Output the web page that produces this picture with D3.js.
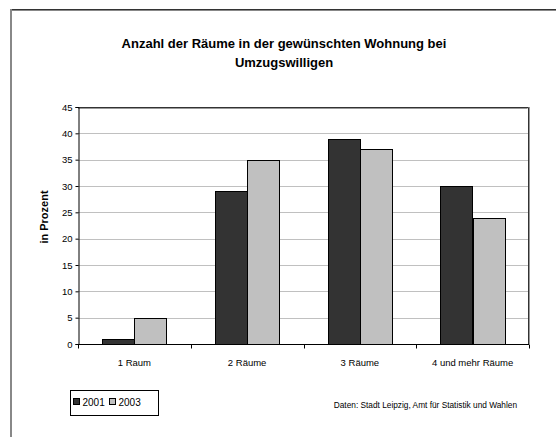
<!DOCTYPE html>
<html>
<head>
<meta charset="utf-8">
<script src="https://cdnjs.cloudflare.com/ajax/libs/d3/7.8.5/d3.min.js"></script>
<style>
  body { margin: 0; background: #fff; }
  svg { display: block; font-family: "Liberation Sans", Arial, sans-serif; }
</style>
</head>
<body>
<svg id="chart" width="556" height="437"></svg>
<script>
'use strict'
// data
const categories = ["1 Raum", "2 Räume", "3 Räume", "4 und mehr Räume"];
const seriesNames = ["2001", "2003"];
const values2001 = [1, 29, 39, 30];
const values2003 = [5, 35, 37, 24];
const yTicks = [0, 5, 10, 15, 20, 25, 30, 35, 40, 45];
const colors = ["#333333", "#c0c0c0"];

const svg = d3.select("#chart");

// outer chart frame (only top and left edges are visible)
svg.append("line").attr("x1", 11).attr("x2", 556).attr("y1", 9.5).attr("y2", 9.5)
    .attr("stroke", "#333").attr("stroke-width", 1);
svg.append("line").attr("x1", 11).attr("x2", 556).attr("y1", 10.5).attr("y2", 10.5)
    .attr("stroke", "#888").attr("stroke-width", 1);
svg.append("line").attr("x1", 11).attr("x2", 11).attr("y1", 9).attr("y2", 437)
    .attr("stroke", "#888").attr("stroke-width", 2);

// title
let title = svg.append("text")
    .attr("text-anchor", "middle")
    .attr("font-size", 13)
    .attr("font-weight", "bold");
title.append("tspan").attr("x", 284).attr("y", 48).text("Anzahl der Räume in der gewünschten Wohnung bei");
title.append("tspan").attr("x", 284).attr("y", 67).text("Umzugswilligen");

let margin = { top: 107, left: 78, right: 27, bottom: 93 },
    width = 556 - margin.left - margin.right,
    height = 437 - margin.top - margin.bottom;

let x = d3.scaleBand().domain(categories).range([0, width]).paddingInner(1.5 / 3.5).paddingOuter(0.75 / 3.5),
    xBand = d3.scaleBand().domain(categories).range([0, width]),
    y = d3.scaleLinear().domain([0, 45]).range([height, 0]),
    g = svg.append("g").attr("transform", `translate(${margin.left},${margin.top})`);

// gridlines
g.selectAll(".grid")
    .data(yTicks.filter(d => d > 0 && d < 45))
    .enter().append("line")
    .attr("class", "grid")
    .attr("x1", 0).attr("x2", width)
    .attr("y1", d => Math.round(y(d)) + 0.5).attr("y2", d => Math.round(y(d)) + 0.5)
    .attr("stroke", "#c0c0c0");

// plot area border top and right
g.append("path")
    .attr("d", `M0,0.5H${width - 0.5}V${height}`)
    .attr("fill", "none")
    .attr("stroke", "#333");
g.append("path")
    .attr("d", `M0,1.5H${width - 1.5}M${width + 0.5},0V${height}`)
    .attr("fill", "none")
    .attr("stroke", "#999");

// bars
let bw = x.bandwidth() / 2;
let series = [values2001, values2003];
series.forEach((vals, s) => {
    g.selectAll(".bar" + s)
        .data(vals)
        .enter().append("rect")
        .attr("class", "bar" + s)
        .attr("x", (d, i) => Math.round(x(categories[i]) + s * bw) + 0.5)
        .attr("y", d => Math.round(y(d)) + 0.5)
        .attr("width", Math.round(bw))
        .attr("height", d => Math.round(y(0)) - Math.round(y(d)))
        .attr("fill", colors[s])
        .attr("stroke", "#000")
        .attr("stroke-width", 1);
});

// y axis
let yAxis = g.append("g")
    .attr("transform", "translate(0.5,0)")
    .call(d3.axisLeft(y).tickValues(yTicks).tickSize(3).tickPadding(3));
yAxis.select(".domain").attr("stroke", "#000");
yAxis.selectAll("text").attr("font-size", 9.5).attr("font-family", "Liberation Sans, Arial, sans-serif").attr("fill", "#000");

// x axis: ticks at category boundaries
let xg = g.append("g").attr("transform", `translate(0,${Math.round(y(0)) + 0.5})`);
xg.append("line").attr("x1", 0).attr("x2", width).attr("stroke", "#000");
xg.selectAll(".xtick")
    .data(categories.concat(["end"]))
    .enter().append("line")
    .attr("class", "xtick")
    .attr("x1", (d, i) => Math.round(i * xBand.step()) + 0.5)
    .attr("x2", (d, i) => Math.round(i * xBand.step()) + 0.5)
    .attr("y1", 0).attr("y2", 4)
    .attr("stroke", "#000");
xg.selectAll(".xlabel")
    .data(categories)
    .enter().append("text")
    .attr("class", "xlabel")
    .attr("x", d => xBand(d) + xBand.bandwidth() / 2)
    .attr("y", 21)
    .attr("text-anchor", "middle")
    .attr("font-size", 9.5)
    .text(d => d);

// y axis label
svg.append("text")
    .attr("transform", `translate(48,217) rotate(-90)`)
    .attr("text-anchor", "middle")
    .attr("font-size", 11)
    .attr("font-weight", "bold")
    .text("in Prozent");

// legend
let legend = svg.append("g").attr("transform", "translate(70.5,390.5)");
legend.append("rect")
    .attr("width", 88).attr("height", 25)
    .attr("fill", "#fff").attr("stroke", "#000");
let items = legend.selectAll(".item")
    .data(seriesNames)
    .enter().append("g")
    .attr("class", "item")
    .attr("transform", (d, i) => `translate(${3 + i * 36},8)`);
items.append("rect")
    .attr("width", 6).attr("height", 6)
    .attr("fill", (d, i) => colors[i])
    .attr("stroke", "#000");
items.append("text")
    .attr("x", 9).attr("y", 7.5)
    .attr("font-size", 10)
    .text(d => d);

// source note
svg.append("text")
    .attr("x", 517).attr("y", 408)
    .attr("text-anchor", "end")
    .attr("font-size", 8.3)
    .text("Daten: Stadt Leipzig, Amt für Statistik und Wahlen");
</script>
</body>
</html>
